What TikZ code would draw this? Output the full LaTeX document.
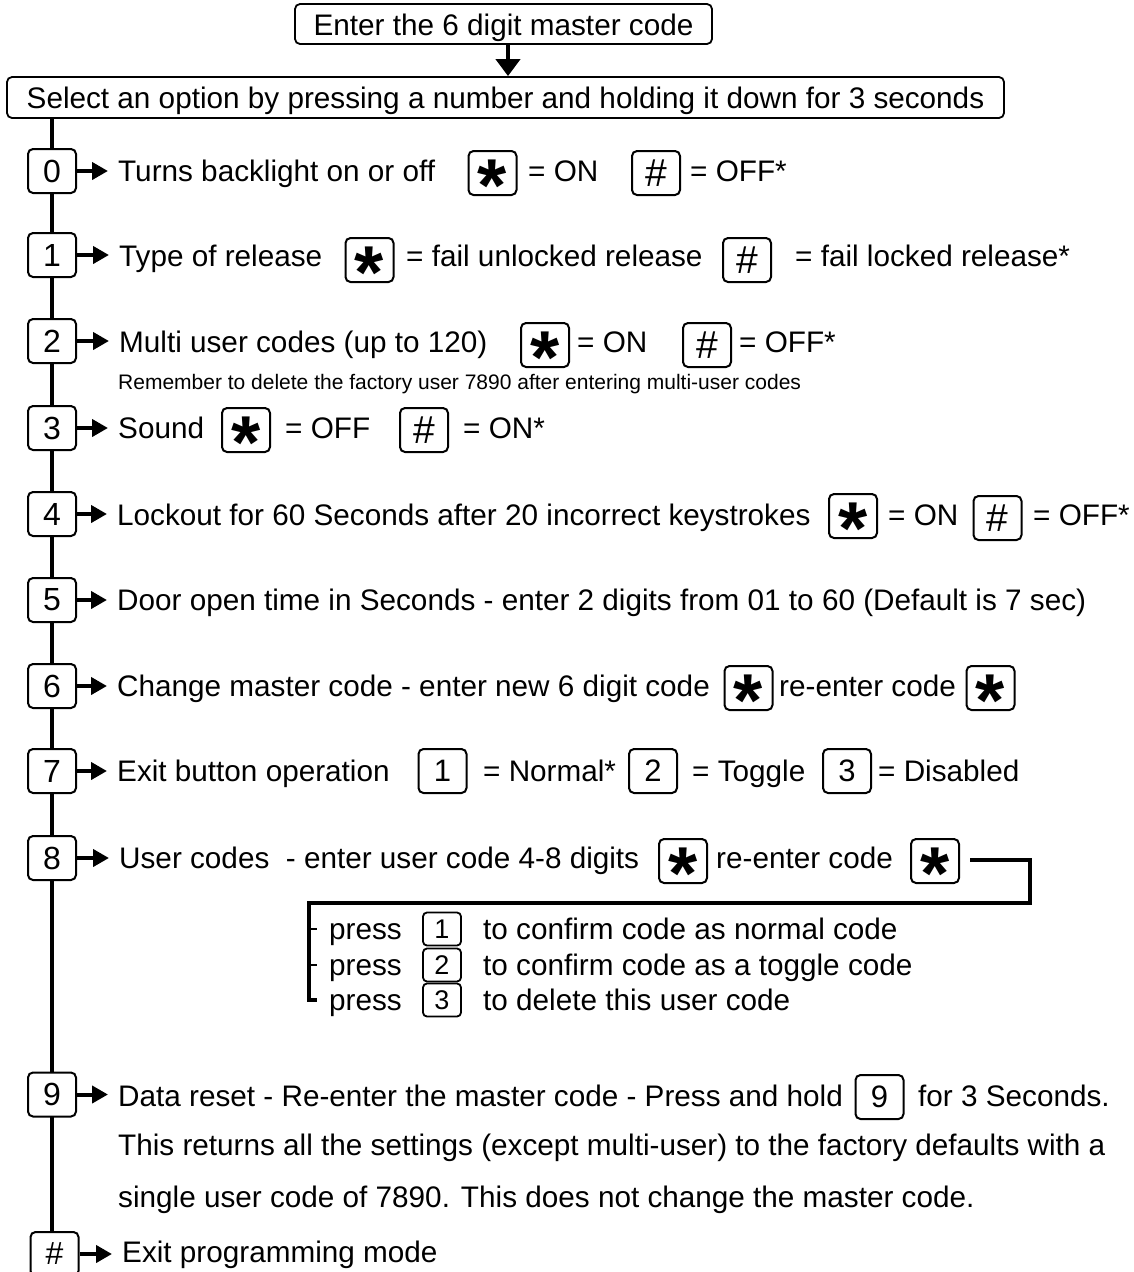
\documentclass[tikz,border=0pt]{standalone}
\usepackage{fontspec}
\setmainfont{Liberation Sans}
\usetikzlibrary{arrows.meta,backgrounds}
\newcommand{\stark}{\raisebox{-38pt}[0pt][0pt]{\fontsize{75}{75}\selectfont\bfseries *}}
\tikzset{
  hbox/.style={draw, line width=1.8pt, rounded corners=5pt, fill=white, inner sep=0pt,
    text height=22pt, text depth=0pt, font=\fontsize{29.7}{32}\selectfont},
  numbox/.style={draw, line width=2pt, rounded corners=5pt, fill=white,
    minimum width=48pt, minimum height=44pt, inner sep=0pt, font=\fontsize{32}{32}\selectfont},
  keybox/.style={draw, line width=2pt, rounded corners=5pt, fill=white,
    minimum width=48pt, minimum height=44pt, inner sep=0pt, font=\fontsize{39}{39}\selectfont},
  smallkey/.style={draw, line width=1.8pt, rounded corners=4pt, fill=white,
    minimum width=38pt, minimum height=33pt, inner sep=0pt, font=\fontsize{27}{27}\selectfont},
  txt/.style={anchor=base west, inner sep=0pt, font=\fontsize{29.7}{32}\selectfont},
  notetxt/.style={anchor=base west, inner sep=0pt, font=\fontsize{21}{23}\selectfont},
  flow/.style={line width=4pt, -{Triangle[length=16pt,width=17pt]}, shorten >=10pt},
  downflow/.style={line width=4pt, -{Triangle[length=17pt,width=24pt]}},
  spine/.style={line width=3.5pt},
  brk/.style={line width=3.5pt},
}
\begin{document}
\begin{tikzpicture}[x=1pt,y=-1pt]
\useasboundingbox (0,0) rectangle (1134,1272);

% header
\node[hbox, minimum width=417pt, minimum height=40pt] (enter) at (503.5,24) {Enter the 6 digit master code};
\node[hbox, minimum width=997pt, minimum height=41pt] (select) at (505.5,97.5) {Select an option by pressing a number and holding it down for 3 seconds};
\coordinate (ax) at (508,60);
\draw[downflow] (enter.south -| ax) -- (select.north -| ax);

% number boxes
\node[numbox] (n0) at (52,171) {0};
\node[numbox] (n1) at (52,255) {1};
\node[numbox] (n2) at (52,341) {2};
\node[numbox] (n3) at (52,428) {3};
\node[numbox] (n4) at (52,514) {4};
\node[numbox] (n5) at (52,600) {5};
\node[numbox] (n6) at (52,686) {6};
\node[numbox] (n7) at (52,771) {7};
\node[numbox] (n8) at (52,858) {8};
\node[numbox] (n9) at (52,1094.5) {9};
\node[numbox] (nh) at (54.5,1254) {\#};

\begin{pgfonlayer}{background}
\draw[spine] (select.south -| n0.center) -- (nh.north -| n0.center);
\end{pgfonlayer}

% row 0
\node[txt] (t0) at (118,181) {Turns backlight on or off};
\node[keybox] (k0a) at (492.5,173) {\stark};
\node[txt] (t0b) at (528,181) {= ON};
\node[keybox] (k0b) at (656,173) {\#};
\node[txt] (t0c) at (690,181) {= OFF*};
\draw[flow] (n0.east) -- (n0.east -| t0.west);

% row 1
\node[txt] (t1) at (119,266) {Type of release};
\node[keybox] (k1a) at (369.5,260) {\stark};
\node[txt] (t1b) at (406,266) {= fail unlocked release};
\node[keybox] (k1b) at (747,260) {\#};
\node[txt] (t1c) at (795,266) {= fail locked release*};
\draw[flow] (n1.east) -- (n1.east -| t1.west);

% row 2
\node[txt] (t2) at (119,352) {Multi user codes (up to 120)};
\node[keybox] (k2a) at (545,345) {\stark};
\node[txt] (t2b) at (577,352) {= ON};
\node[keybox] (k2b) at (707,345) {\#};
\node[txt] (t2c) at (739,352) {= OFF*};
\node[notetxt] (t2n) at (118,389) {Remember to delete the factory user 7890 after entering multi-user codes};
\draw[flow] (n2.east) -- (n2.east -| t2.west);

% row 3
\node[txt] (t3) at (118,438) {Sound};
\node[keybox] (k3a) at (246,430) {\stark};
\node[txt] (t3b) at (285,438) {= OFF};
\node[keybox] (k3b) at (424,430) {\#};
\node[txt] (t3c) at (463,438) {= ON*};
\draw[flow] (n3.east) -- (n3.east -| t3.west);

% row 4
\node[txt] (t4) at (117,525) {Lockout for 60 Seconds after 20 incorrect keystrokes};
\node[keybox] (k4a) at (853,516) {\stark};
\node[txt] (t4b) at (888,525) {= ON};
\node[keybox] (k4b) at (997.5,518) {\#};
\node[txt] (t4c) at (1033,525) {= OFF*};
\draw[flow] (n4.east) -- (n4.east -| t4.west);

% row 5
\node[txt] (t5) at (117,610) {Door open time in Seconds - enter 2 digits from 01 to 60 (Default is 7 sec)};
\draw[flow] (n5.east) -- (n5.east -| t5.west);

% row 6
\node[txt] (t6) at (117,696) {Change master code - enter new 6 digit code};
\node[keybox] (k6a) at (748.5,688) {\stark};
\node[txt] (t6b) at (779,696) {re-enter code};
\node[keybox] (k6b) at (990.5,688) {\stark};
\draw[flow] (n6.east) -- (n6.east -| t6.west);

% row 7
\node[txt] (t7) at (117,781) {Exit button operation};
\node[keybox, font=\fontsize{31}{31}\selectfont] (k7a) at (442.5,771) {1};
\node[txt] (t7b) at (483,781) {= Normal*};
\node[keybox, font=\fontsize{31}{31}\selectfont] (k7b) at (653,771) {2};
\node[txt] (t7c) at (692,781) {= Toggle};
\node[keybox, font=\fontsize{31}{31}\selectfont] (k7c) at (847,771) {3};
\node[txt] (t7d) at (878,781) {= Disabled};
\draw[flow] (n7.east) -- (n7.east -| t7.west);

% row 8
\node[txt] (t8) at (119,868) {User codes~ - enter user code 4-8 digits};
\node[keybox] (k8a) at (683,861) {\stark};
\node[txt] (t8b) at (716,868) {re-enter code};
\node[keybox] (k8b) at (935,861) {\stark};
\draw[flow] (n8.east) -- (n8.east -| t8.west);

\coordinate (bs) at (970,860);
\coordinate (bc) at (1030,903);
\coordinate (bl) at (309,903);
\node[txt] (p1) at (329,939) {press};
\node[smallkey] (s1) at (442,929) {1};
\node[txt] (q1) at (483,939) {to confirm code as normal code};
\node[txt] (p2) at (329,975) {press};
\node[smallkey] (s2) at (442,965) {2};
\node[txt] (q2) at (483,975) {to confirm code as a toggle code};
\node[txt] (p3) at (329,1010) {press};
\node[smallkey] (s3) at (442,1000) {3};
\node[txt] (q3) at (483,1010) {to delete this user code};
\draw[brk] (bs) -| (bc) -- (bl) -- (bl |- s3.center) -- ++(8,0);
\draw[line width=2pt] (bl |- s1.center) -- ++(8,0);
\draw[line width=2pt] (bl |- s2.center) -- ++(8,0);

% row 9
\node[txt] (t9) at (118,1106) {Data reset - Re-enter the master code - Press and hold};
\node[keybox, font=\fontsize{31}{31}\selectfont] (k9) at (879.5,1097) {9};
\node[txt] (t9b) at (918,1106) {for 3 Seconds.};
\node[txt] (t9c) at (118,1155) {This returns all the settings (except multi-user) to the factory defaults with a};
\node[txt] (t9d) at (118,1207) {single user code of 7890. This does not change the master code.};
\draw[flow] (n9.east) -- (n9.east -| t9.west);

% exit
\node[txt] (th) at (122,1262) {Exit programming mode};
\draw[flow] (nh.east) -- (nh.east -| th.west);
\end{tikzpicture}
\end{document}
